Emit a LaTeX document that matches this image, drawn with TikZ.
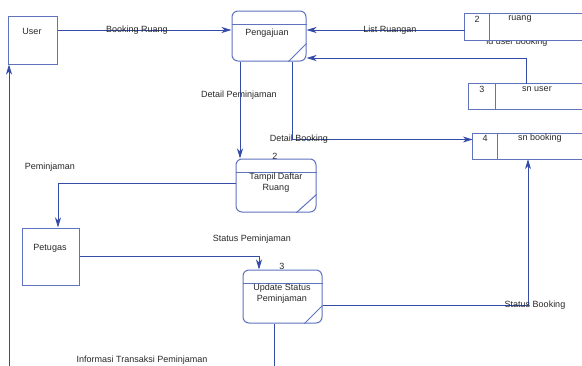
\documentclass[tikz,border=0pt]{standalone}
\usepackage{fontspec}
\setmainfont{Liberation Sans}
\usetikzlibrary{arrows.meta}
\definecolor{boxc}{RGB}{95,115,190}
\definecolor{linec}{RGB}{52,76,168}
\definecolor{txtc}{RGB}{40,40,40}
\begin{document}
\begin{tikzpicture}[x=1pt,y=-1pt,
  font=\fontsize{9}{11}\selectfont,
  entity/.style={draw=boxc, line width=1pt, inner sep=0, fill=white},
  proc/.style={draw=boxc, line width=1pt, rounded corners=6pt, inner sep=0, fill=white},
  store/.style={draw=none, inner sep=0},
  sline/.style={draw=boxc, line width=1pt},
  flow/.style={draw=linec, line width=0.9pt, -{Stealth[length=10pt,width=6pt,inset=3pt]}},
  lbl/.style={text=txtc, inner sep=0, align=center}]
\clip (0,0) rectangle (582,365);
\fill[white] (0,0) rectangle (582,365);

% entities
\node[entity, minimum width=49, minimum height=48] (user) at (32.5,40) {};
\node[lbl] at (32,31) {User};
\node[entity, minimum width=57, minimum height=57] (petugas) at (50.5,256.5) {};
\node[lbl] at (50,248) {Petugas};

% processes
\node[proc, minimum width=74, minimum height=50] (peng) at (269,36) {};
\draw[sline] (peng.west |- 0,24) -- (peng.east |- 0,24);
\draw[sline] ([yshift=18pt]peng.south east) -- ([xshift=-18pt]peng.south east);
\node[lbl] at (267,33) {Pengajuan};

\node[proc, minimum width=80, minimum height=53] (tampil) at (276,185.5) {};
\draw[sline] (tampil.west |- 0,172) -- (tampil.east |- 0,172);
\draw[sline] ([yshift=18pt]tampil.south east) -- ([xshift=-20pt]tampil.south east);
\node[lbl] at (276,183) {Tampil Daftar\\Ruang};
\node[lbl] at (275,156) {2};

\node[proc, minimum width=79, minimum height=53] (update) at (282.5,296.5) {};
\draw[sline] (update.west |- 0,283) -- (update.east |- 0,283);
\draw[sline] ([yshift=18pt]update.south east) -- ([xshift=-18pt]update.south east);
\node[lbl] at (282,294) {Update Status\\Peminjaman};
\node[lbl] at (282,266) {3};

% data stores
\node[lbl, anchor=base] at (517,44.5) {id user booking};
\node[store, minimum width=130, minimum height=26] (ruang) at (530,27) {};
\fill[white] (ruang.north west) rectangle (ruang.south east);
\draw[sline] (ruang.north east) -- (ruang.north west) -- (ruang.south west) -- (ruang.south east);
\draw[sline] (ruang.north -| 489,0) -- (ruang.south -| 489,0);
\node[lbl] at (477,19) {2};
\node[lbl] at (520,19) {ruang};

\node[store, minimum width=126, minimum height=25] (snuser) at (532,96.5) {};
\draw[sline] (snuser.north east) -- (snuser.north west) -- (snuser.south west) -- (snuser.south east);
\draw[sline] (snuser.north -| 495,0) -- (snuser.south -| 495,0);
\node[lbl] at (482,89) {3};
\node[lbl] at (537,89) {sn user};

\node[store, minimum width=122, minimum height=25] (snbook) at (534,146.5) {};
\draw[sline] (snbook.north east) -- (snbook.north west) -- (snbook.south west) -- (snbook.south east);
\draw[sline] (snbook.north -| 497,0) -- (snbook.south -| 497,0);
\node[lbl] at (485,138) {4};
\node[lbl] at (540,138) {sn booking};

% flows
\draw[flow] (user.east |- 0,30) -- (peng.west |- 0,30);
\node[lbl] at (137,30) {Booking Ruang};

\draw[flow] (ruang.west |- 0,30) -- (peng.east |- 0,30);
\node[lbl] at (390,30) {List Ruangan};

\draw[flow] ([xshift=-6pt]snuser.north) |- (peng.east |- 0,58);

\draw[flow] (peng.south -| 240,0) -- (tampil.north -| 240,0);
\node[lbl] at (239,95) {Detail Peminjaman};

\draw[flow] (peng.south -| 292,0) |- (snbook.west |- 0,139.5);
\node[lbl] at (299,139) {Detail Booking};

\draw[flow] (tampil.west |- 0,183) -| (petugas.north -| 58,0);
\node[lbl] at (50,167) {Peminjaman};

\draw[flow] (petugas.east |- 0,256) -| (update.north -| 259,0);
\node[lbl] at (252,239) {Status Peminjaman};

\draw[flow] (update.east |- 0,305) -| (snbook.south -| 528,0);
\node[lbl] at (535,305) {Status Booking};

\coordinate (offbl) at (9,378);
\draw[flow] (update.south -| 274,0) |- (offbl) -- (user.south -| 9,0);
\node[lbl] at (142,360) {Informasi Transaksi Peminjaman};
\end{tikzpicture}
\end{document}
